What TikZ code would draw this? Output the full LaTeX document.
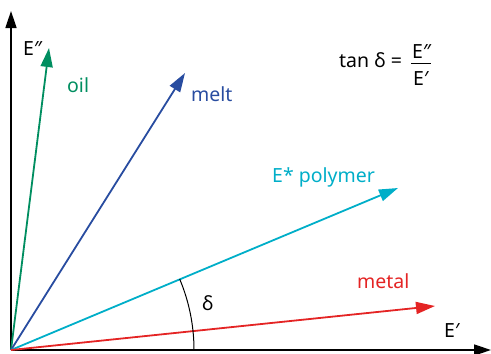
\documentclass[tikz,border=0pt]{standalone}
\usepackage{fontspec}
\setmainfont{Noto Sans}
\usetikzlibrary{arrows.meta}
\definecolor{oilc}{RGB}{0,142,96}
\definecolor{meltc}{RGB}{40,76,160}
\definecolor{polyc}{RGB}{0,174,200}
\definecolor{metalc}{RGB}{228,36,36}
\tikzset{
  vec/.style={line width=1.8pt,-{Triangle[length=19pt,width=12pt]}},
  axis/.style={line width=1.6pt,-{Triangle[length=17pt,width=11pt]}},
  lbl/.style={inner sep=0pt,anchor=base west,font=\fontsize{19.5}{23}\selectfont},
}
\begin{document}
\begin{tikzpicture}[x=1pt,y=-1pt]
\useasboundingbox (0,0) rectangle (491,354);
\coordinate (O) at (11,350);
\coordinate (ytip) at (11,11);
\coordinate (xtip) at (491,350);
\coordinate (oilt) at (49,48);
\coordinate (meltt) at (185,73);
\coordinate (polyt) at (398,188);
\coordinate (metalt) at (435,306);
\draw[axis] (O) -- (ytip);
\draw[axis] (O) -- (xtip);
\draw[vec,oilc] (O) -- (oilt);
\draw[vec,meltc] (O) -- (meltt);
\draw[vec,polyc] (O) -- (polyt);
\draw[vec,metalc] (O) -- (metalt);
\draw[line width=1pt] (O) ++(183,0) arc[start angle=0,end angle=-22.8,radius=183];
\node[lbl] (Eyy) at (23,55) {E″};
\node[lbl,oilc] (oil) at (67,92) {oil};
\node[lbl,meltc] (melt) at (191,101) {melt};
\node[lbl,polyc] (poly) at (272,182) {E* polymer};
\node[lbl,metalc] (metal) at (357,288) {metal};
\node[lbl] (delta) at (202,310) {δ};
\node[lbl] (Ex) at (444,337) {E′};
\node[lbl] (tan) at (339,67) {tan δ =};
\node[lbl] (num) at (412,58) {E″};
\node[lbl] (den) at (413,85) {E′};
\draw[line width=0.8pt] (411,63) -- (431,63);
\end{tikzpicture}
\end{document}
